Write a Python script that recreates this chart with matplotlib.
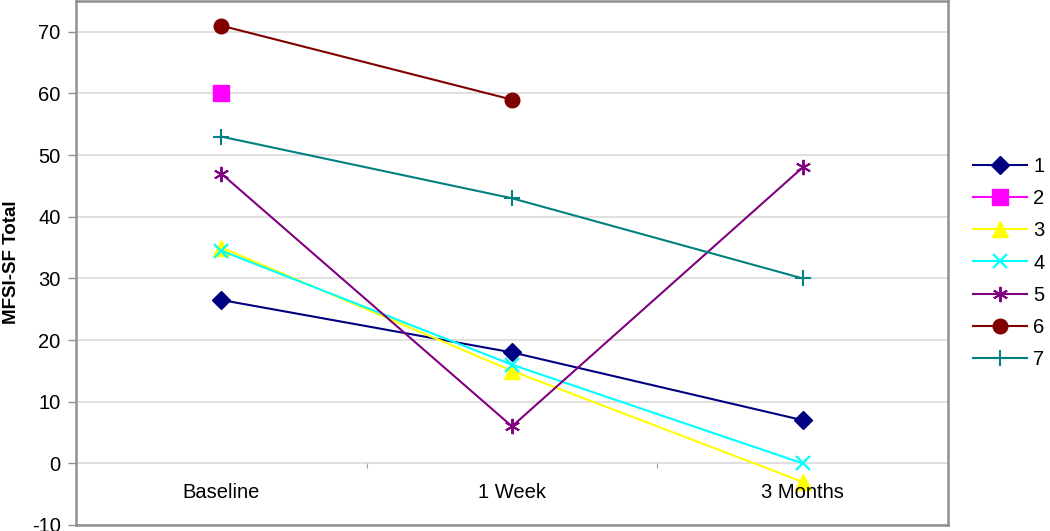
import matplotlib
matplotlib.use("Agg")
import matplotlib.pyplot as plt
import numpy as np

plt.rcParams['font.family'] = ['Liberation Sans', 'DejaVu Sans']

categories = ["Baseline", "1 Week", "3 Months"]
s1 = [26.5, 18, 7]
s2 = [60, np.nan, np.nan]
s3 = [35, 15, -3]
s4 = [34.5, 16, 0]
s5 = [47, 6, 48]
s6 = [71, 59, np.nan]
s7 = [53, 43, 30]
series_names = ["1", "2", "3", "4", "5", "6", "7"]
yticks = [-10, 0, 10, 20, 30, 40, 50, 60, 70]

series = [s1, s2, s3, s4, s5, s6, s7]
colors = ["#000080", "#FF00FF", "#FFFF00", "#00FFFF", "#800080", "#800000", "#008080"]
markers = ["D", "s", "^", "x", (6, 2, 0), "o", "+"]
msizes = [9, 11, 11, 10, 11, 10.5, 11]
mews = [1, 1, 1, 1.6, 1.4, 1, 1.5]

fig = plt.figure(figsize=(10.5, 5.31), dpi=100)
ax = fig.add_axes([76/1050, 6/531, (948-76)/1050, (525-1)/531])

x = np.arange(len(categories)) + 0.5
for vals, c, m, ms, mew, name in zip(series, colors, markers, msizes, mews, series_names):
    ax.plot(x, vals, color=c, marker=m, markersize=ms, markeredgewidth=mew,
            markerfacecolor=c, markeredgecolor=c, lw=1.5, label=name, zorder=3)

ax.set_xlim(0, 3)
ax.set_ylim(-10, 75)
ax.set_yticks(yticks)
ax.set_yticklabels([str(t) for t in yticks], fontsize=14.5)
ax.tick_params(axis='y', length=6, color='#909090', width=1, pad=5)
ax.set_xticks([])
ax.grid(axis='y', color='#d9d9d9', lw=1.2, zorder=0)
ax.set_axisbelow(True)
for sp in ax.spines.values():
    sp.set_color('#909090')
    sp.set_linewidth(1.8)

# category boundary ticks on zero line
ax.vlines([1, 2], -0.8, 0, color='#a0a0a0', lw=0.8, zorder=1)
for xi, lab in zip(x, categories):
    ax.text(xi, -4.8, lab, ha='center', va='center', fontsize=14.5)

fig.text(12/1050, 1 - 262/531, "MFSI-SF Total", rotation=90, ha='center', va='center',
         fontsize=13.5, fontweight='bold')

handles, labels = ax.get_legend_handles_labels()
leg = fig.legend(handles, labels, loc='center left', bbox_to_anchor=(973/1050, 1 - 263/531),
                 frameon=False, fontsize=14.5, handlelength=2.7, handletextpad=0.3,
                 labelspacing=0.66, borderaxespad=0, borderpad=0)

fig.savefig("out.png", dpi=100)
